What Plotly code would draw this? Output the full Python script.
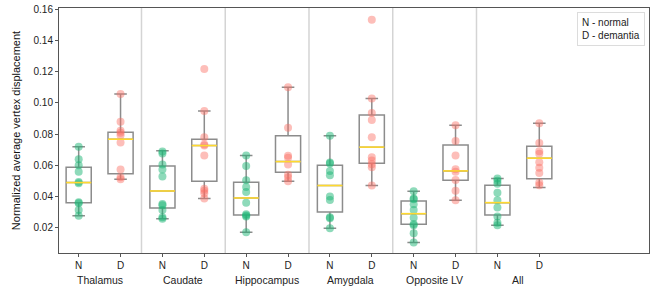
import plotly.graph_objects as go

regions = ["Thalamus", "Caudate", "Hippocampus", "Amygdala", "Opposite LV", "All"]

# individual points
normal_pts = [
    [0.0718, 0.0638, 0.0600, 0.0557, 0.0492, 0.0484, 0.0362, 0.0355, 0.0312, 0.0275],
    [0.0688, 0.0675, 0.0604, 0.0572, 0.0527, 0.0351, 0.0342, 0.0312, 0.0265, 0.0256],
    [0.0662, 0.0595, 0.0503, 0.0460, 0.0428, 0.0359, 0.0284, 0.0276, 0.0269, 0.0168],
    [0.0789, 0.0617, 0.0610, 0.0563, 0.0535, 0.0398, 0.0376, 0.0265, 0.0258, 0.0194],
    [0.0432, 0.0385, 0.0380, 0.0349, 0.0312, 0.0262, 0.0222, 0.0213, 0.0162, 0.0103],
    [0.0514, 0.0499, 0.0481, 0.0423, 0.0374, 0.0327, 0.0269, 0.0230, 0.0213],
]
dementia_pts = [
    [0.1057, 0.0879, 0.0821, 0.0808, 0.0793, 0.0746, 0.0572, 0.0522, 0.0510],
    [0.1218, 0.0948, 0.0780, 0.0733, 0.0726, 0.0662, 0.0449, 0.0436, 0.0420, 0.0385],
    [0.1102, 0.0840, 0.0660, 0.0647, 0.0604, 0.0539, 0.0520, 0.0497],
    [0.1536, 0.1029, 0.0935, 0.0890, 0.0780, 0.0651, 0.0630, 0.0606, 0.0587, 0.0469],
    [0.0857, 0.0756, 0.0662, 0.0574, 0.0557, 0.0505, 0.0436, 0.0374],
    [0.0870, 0.0742, 0.0690, 0.0673, 0.0619, 0.0584, 0.0550, 0.0488, 0.0471],
]

# box statistics
n_lo  = [0.0275, 0.0256, 0.0168, 0.0194, 0.0103, 0.0213]
n_q1  = [0.0359, 0.0325, 0.0280, 0.0299, 0.0220, 0.0280]
n_med = [0.0488, 0.0434, 0.0389, 0.0469, 0.0288, 0.0359]
n_q3  = [0.0587, 0.0595, 0.0490, 0.0600, 0.0370, 0.0471]
n_hi  = [0.0718, 0.0692, 0.0662, 0.0789, 0.0432, 0.0514]

d_lo  = [0.0510, 0.0385, 0.0497, 0.0469, 0.0374, 0.0456]
d_q1  = [0.0544, 0.0497, 0.0555, 0.0613, 0.0503, 0.0512]
d_med = [0.0767, 0.0726, 0.0623, 0.0716, 0.0563, 0.0645]
d_q3  = [0.0812, 0.0767, 0.0790, 0.0922, 0.0729, 0.0722]
d_hi  = [0.1057, 0.0948, 0.1102, 0.1029, 0.0857, 0.0870]

tick_labels = ["N", "D"]
legend_lines = ["N - normal", "D - demantia"]
y_ticks = [0.02, 0.04, 0.06, 0.08, 0.10, 0.12, 0.14, 0.16]

GREEN = "rgba(30,182,118,0.5)"
RED = "rgba(250,110,100,0.45)"
BOX_LINE = "#8c8c8c"
MED = "#ffd92e"
FONT = "Liberation Sans"

n_pos = [2 * i for i in range(len(regions))]
d_pos = [2 * i + 1 for i in range(len(regions))]
BW = 0.6

fig = go.Figure()

for pos, lo, q1, med, q3, hi in [(n_pos, n_lo, n_q1, n_med, n_q3, n_hi),
                                 (d_pos, d_lo, d_q1, d_med, d_q3, d_hi)]:
    fig.add_trace(go.Box(
        x=pos, q1=q1, median=med, q3=q3, lowerfence=lo, upperfence=hi,
        width=BW, whiskerwidth=0.5, boxpoints=False,
        line=dict(color=BOX_LINE, width=1.5), fillcolor="rgba(0,0,0,0)",
        showlegend=False, hoverinfo="skip"))

for pos, pts, col in [(n_pos, normal_pts, GREEN), (d_pos, dementia_pts, RED)]:
    xs, ys = [], []
    for p, vals in zip(pos, pts):
        xs += [p] * len(vals)
        ys += vals
    fig.add_trace(go.Scatter(x=xs, y=ys, mode="markers",
                             marker=dict(color=col, size=8, line=dict(width=0)),
                             showlegend=False, hoverinfo="skip"))

for pos, med in [(n_pos, n_med), (d_pos, d_med)]:
    xs, ys = [], []
    for p, m in zip(pos, med):
        xs += [p - BW / 2, p + BW / 2, None]
        ys += [m, m, None]
    fig.add_trace(go.Scatter(x=xs, y=ys, mode="lines",
                             line=dict(color=MED, width=1.6),
                             showlegend=False, hoverinfo="skip"))

for i in range(len(regions) - 1):
    fig.add_vline(x=(d_pos[i] + n_pos[i + 1]) / 2, line=dict(color="#d4d4d4", width=1.5), layer="below")

for i, name in enumerate(regions):
    fig.add_annotation(x=(n_pos[i] + d_pos[i]) / 2, y=0, xref="x", yref="paper",
                       yanchor="top", yshift=-19, text=name, showarrow=False,
                       font=dict(family=FONT, size=10.5, color="#222"))

fig.add_annotation(x=0.993, y=0.982, xref="paper", yref="paper", xanchor="right", yanchor="top",
                   text="<br>".join(legend_lines), align="left", showarrow=False,
                   font=dict(family=FONT, size=10, color="#222"),
                   bordercolor="#dcdcdc", borderwidth=1, borderpad=4, bgcolor="white")

all_pos = sorted(n_pos + d_pos)
fig.update_xaxes(range=[-0.47, 13.62], tickvals=all_pos,
                 ticktext=[tick_labels[p % 2] for p in all_pos],
                 showgrid=False, zeroline=False, showline=True, mirror=True,
                 linecolor="#555", linewidth=1, ticks="outside", ticklen=3,
                 tickcolor="#555", tickfont=dict(family=FONT, size=10, color="#222"))
fig.update_yaxes(range=[0.0035, 0.1611], tickvals=y_ticks, tickformat=".2f",
                 showgrid=False, zeroline=False, showline=True, mirror=True,
                 linecolor="#555", linewidth=1, ticks="outside", ticklen=3,
                 tickcolor="#555", tickfont=dict(family=FONT, size=10, color="#222"),
                 automargin=False,
                 title=dict(text="Normalized average vertex displacement", standoff=10,
                            font=dict(family=FONT, size=11, color="#111")))

fig.update_layout(width=664, height=289, margin=dict(l=59, r=15, t=8, b=36),
                  plot_bgcolor="white", paper_bgcolor="white")

fig.write_html("out.html", config={"displayModeBar": False},
               post_script="document.body.style.margin='0';document.body.style.overflow='hidden';")
